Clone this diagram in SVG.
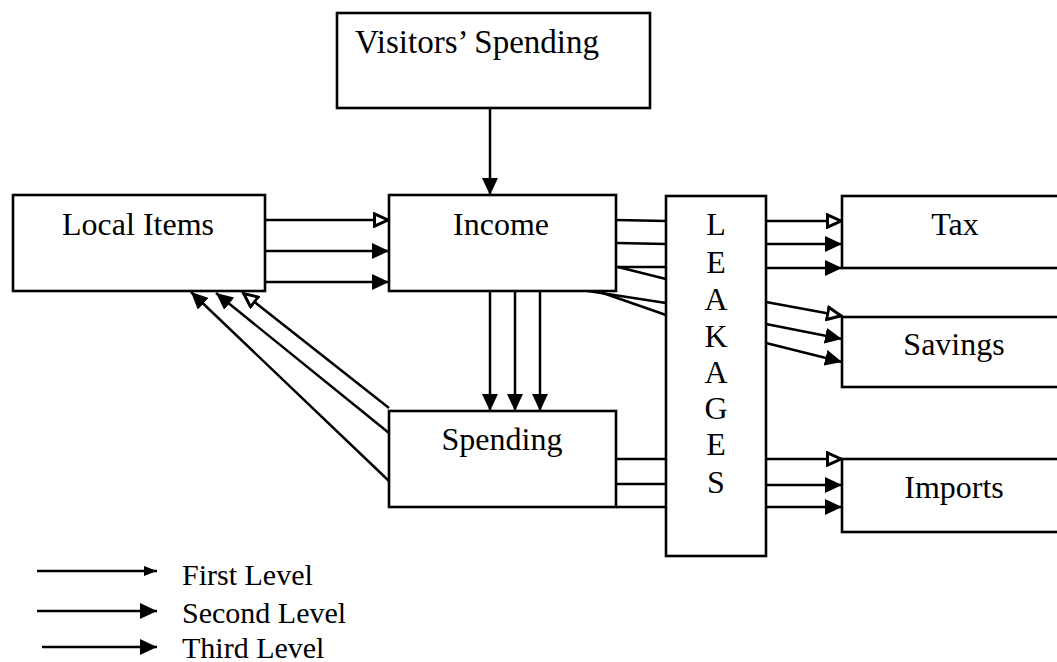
<svg xmlns="http://www.w3.org/2000/svg" width="1057" height="662" viewBox="0 0 1057 662">
  <style>
    .box { fill: #fff; stroke: #000; stroke-width: 2.6; }
    .lbl { font-family: "Liberation Serif", "Times New Roman", serif; font-size: 32px; fill: #000; text-anchor: middle; }
    .leg { font-family: "Liberation Serif", "Times New Roman", serif; font-size: 30px; fill: #000; }
    .ln { fill: none; stroke: #000; stroke-width: 2.5; }
    .l1 { marker-end: url(#open); }
    .l2 { marker-end: url(#solid); }
  </style>
  <defs>
    <marker id="solid" markerUnits="userSpaceOnUse" markerWidth="18" markerHeight="16" refX="17" refY="8" orient="auto">
      <path d="M0,0 L17,8 L0,16 z" fill="#000"/>
    </marker>
    <marker id="open" markerUnits="userSpaceOnUse" markerWidth="18" markerHeight="16" refX="16" refY="8" orient="auto">
      <path d="M1.5,1.8 L15,8 L1.5,14.2 z" fill="#fff" stroke="#000" stroke-width="3"/>
    </marker>
    <marker id="small" markerUnits="userSpaceOnUse" markerWidth="14" markerHeight="12" refX="13" refY="6" orient="auto">
      <path d="M0,1 L13,6 L0,11 z" fill="#000"/>
    </marker>
  </defs>

  <g id="connectors">
    <!-- visitors into income -->
    <line class="ln l2" x1="490" y1="108" x2="490" y2="195"/>
    <!-- local items to income -->
    <line class="ln l1" x1="265" y1="220" x2="389" y2="220"/>
    <line class="ln l2" x1="265" y1="251" x2="389" y2="251"/>
    <line class="ln l2" x1="265" y1="282" x2="389" y2="282"/>
    <!-- income to spending -->
    <line class="ln l2" x1="490" y1="291" x2="490" y2="411"/>
    <line class="ln l2" x1="515" y1="291" x2="515" y2="411"/>
    <line class="ln l2" x1="540" y1="291" x2="540" y2="411"/>
    <!-- spending back to local items -->
    <line class="ln l1" x1="389" y1="408" x2="243" y2="293"/>
    <line class="ln l2" x1="389" y1="433" x2="216" y2="293"/>
    <line class="ln l2" x1="389" y1="481" x2="191" y2="292"/>
    <!-- income into leakages -->
    <line class="ln" x1="616" y1="220" x2="666" y2="221"/>
    <line class="ln" x1="616" y1="243" x2="666" y2="244"/>
    <line class="ln" x1="616" y1="267" x2="666" y2="267"/>
    <line class="ln" x1="618" y1="267" x2="666" y2="279"/>
    <line class="ln" x1="588" y1="291" x2="666" y2="303"/>
    <line class="ln" x1="600" y1="292" x2="666" y2="315"/>
    <!-- spending into leakages -->
    <line class="ln" x1="616" y1="459" x2="666" y2="459"/>
    <line class="ln" x1="616" y1="484" x2="666" y2="484"/>
    <line class="ln" x1="616" y1="507" x2="666" y2="507"/>
    <!-- leakages to tax -->
    <line class="ln l1" x1="766" y1="221" x2="842" y2="221"/>
    <line class="ln l2" x1="766" y1="244" x2="842" y2="244"/>
    <line class="ln l2" x1="766" y1="268" x2="842" y2="268"/>
    <!-- leakages to savings -->
    <line class="ln l1" x1="766" y1="302" x2="842" y2="316"/>
    <line class="ln l2" x1="766" y1="324" x2="842" y2="339"/>
    <line class="ln l2" x1="766" y1="343" x2="842" y2="362"/>
    <!-- leakages to imports -->
    <line class="ln l1" x1="766" y1="459" x2="842" y2="459"/>
    <line class="ln l2" x1="766" y1="485" x2="842" y2="485"/>
    <line class="ln l2" x1="766" y1="507" x2="842" y2="507"/>
  </g>

  <g id="visitors">
    <rect class="box" x="337" y="13" width="313" height="95"/>
    <text class="lbl" x="477" y="53" style="font-size:33px">Visitors’ Spending</text>
  </g>
  <g id="local-items">
    <rect class="box" x="13" y="195" width="252" height="96"/>
    <text class="lbl" x="138" y="235">Local Items</text>
  </g>
  <g id="income">
    <rect class="box" x="389" y="195" width="227" height="96"/>
    <text class="lbl" x="501" y="235">Income</text>
  </g>
  <g id="spending">
    <rect class="box" x="389" y="411" width="227" height="96"/>
    <text class="lbl" x="502" y="450">Spending</text>
  </g>
  <g id="leakages">
    <rect class="box" x="666" y="196" width="100" height="360"/>
    <text class="lbl" x="716" y="235">L</text>
    <text class="lbl" x="716" y="273">E</text>
    <text class="lbl" x="716" y="310">A</text>
    <text class="lbl" x="716" y="347">K</text>
    <text class="lbl" x="716" y="383">A</text>
    <text class="lbl" x="716" y="419">G</text>
    <text class="lbl" x="716" y="455">E</text>
    <text class="lbl" x="716" y="493">S</text>
  </g>
  <g id="tax">
    <rect class="box" x="842" y="196" width="230" height="72"/>
    <text class="lbl" x="955" y="235">Tax</text>
  </g>
  <g id="savings">
    <rect class="box" x="842" y="317" width="230" height="70"/>
    <text class="lbl" x="954" y="355">Savings</text>
  </g>
  <g id="imports">
    <rect class="box" x="842" y="459" width="230" height="73"/>
    <text class="lbl" x="954" y="498">Imports</text>
  </g>

  <g id="legend">
    <line class="ln" x1="37" y1="571" x2="157" y2="571" style="marker-end:url(#small)"/>
    <text class="leg" x="182" y="585">First Level</text>
    <line class="ln" x1="37" y1="611" x2="157" y2="611" style="marker-end:url(#solid)"/>
    <text class="leg" x="182" y="623">Second Level</text>
    <line class="ln" x1="42" y1="647" x2="157" y2="647" style="marker-end:url(#solid)"/>
    <text class="leg" x="182" y="658">Third Level</text>
  </g>
</svg>
